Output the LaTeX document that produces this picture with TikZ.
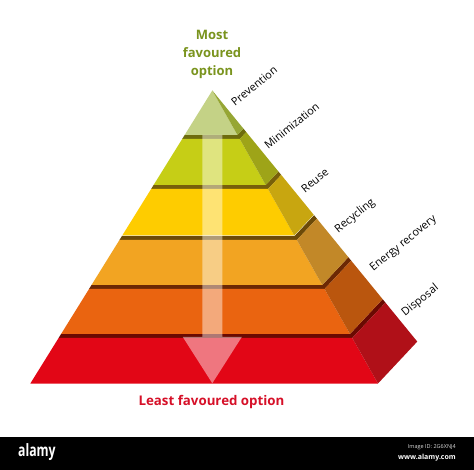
\documentclass[tikz,border=0pt]{standalone}
\usepackage{fontspec}
\setmainfont{Open Sans}
\definecolor{prevF}{RGB}{196,210,134}
\definecolor{prevS}{RGB}{150,166,52}
\definecolor{minF}{RGB}{198,206,22}
\definecolor{minS}{RGB}{158,164,24}
\definecolor{minT}{RGB}{110,108,14}
\definecolor{reuF}{RGB}{254,204,0}
\definecolor{reuS}{RGB}{200,166,16}
\definecolor{reuT}{RGB}{120,96,10}
\definecolor{recF}{RGB}{242,164,34}
\definecolor{recS}{RGB}{194,136,40}
\definecolor{recT}{RGB}{108,74,8}
\definecolor{eneF}{RGB}{234,100,16}
\definecolor{eneS}{RGB}{186,86,14}
\definecolor{eneT}{RGB}{108,40,4}
\definecolor{disF}{RGB}{226,6,22}
\definecolor{disS}{RGB}{176,16,24}
\definecolor{disT}{RGB}{106,10,2}
\definecolor{topTxt}{RGB}{122,148,30}
\definecolor{botTxt}{RGB}{214,16,40}
\def\pax{212.3}\def\pay{90.5}
\def\pkl{-0.621}\def\pkr{0.5655}
\def\pdx{0.134}\def\pdy{-0.143}
\def\pgap{4}
% #1 name, #2 ytop, #3 ybottom
\newcommand{\slabpts}[3]{%
  \pgfmathsetmacro\myDt{#2-\pay}%
  \pgfmathsetmacro\myDb{#3-\pay}%
  \pgfmathsetmacro\myDs{#2-\pgap-\pay}%
  \coordinate (#1-flt) at ({\pax+\pkl*\myDt},#2);
  \coordinate (#1-frt) at ({\pax+\pkr*\myDt},#2);
  \coordinate (#1-brt) at ({\pax+\pkr*\myDt+\pdx*\myDt},{#2+\pdy*\myDt});
  \coordinate (#1-flb) at ({\pax+\pkl*\myDb},#3);
  \coordinate (#1-frb) at ({\pax+\pkr*\myDb},#3);
  \coordinate (#1-brb) at ({\pax+\pkr*\myDb+\pdx*\myDb},{#3+\pdy*\myDb});
  \coordinate (#1-fls) at ({\pax+\pkl*\myDs},{#2-\pgap});
  \coordinate (#1-frs) at ({\pax+\pkr*\myDs},{#2-\pgap});
  \coordinate (#1-brs) at ({\pax+\pkr*\myDs+\pdx*\myDs},{#2-\pgap+\pdy*\myDs});
}
% #1 name, #2 front, #3 side
\newcommand{\slabfaces}[3]{%
  \fill[#2] (#1-flt) -- (#1-frt) -- (#1-frb) -- (#1-flb) -- cycle;
  \fill[#3] (#1-frt) -- (#1-brt) -- (#1-brb) -- (#1-frb) -- cycle;
}
\newcommand{\slabstrip}[2]{%
  \fill[#2] (#1-flt) -- (#1-frt) -- (#1-brt) -- (#1-brs) -- (#1-frs) -- (#1-fls) -- cycle;
}
\tikzset{
  lab/.style={font=\fontsize{11}{13}\selectfont, text=black, inner sep=0pt, anchor=base west, rotate=39},
}
\begin{document}
\begin{tikzpicture}[x=1pt,y=-1pt]
\useasboundingbox (0,0) rectangle (474,470);
\fill[white] (0,0) rectangle (474,470);
% slabs
\slabpts{dis}{338}{383.5}
\slabpts{ene}{289}{334}
\slabpts{rec}{240}{285}
\slabpts{reu}{189}{235.5}
\slabpts{min}{139}{185}
\slabpts{pre}{90.5}{135}
\slabstrip{dis}{disT}\slabfaces{dis}{disF}{disS}
\slabstrip{ene}{eneT}\slabfaces{ene}{eneF}{eneS}
\slabstrip{rec}{recT}\slabfaces{rec}{recF}{recS}
\slabstrip{reu}{reuT}\slabfaces{reu}{reuF}{reuS}
\slabstrip{min}{minT}\slabfaces{min}{minF}{minS}
\slabfaces{pre}{prevF}{prevS}
% arrow
\coordinate (arT) at (212.3,135);
\coordinate (arH) at (212.3,337);
\coordinate (arTip) at (212.3,383.3);
\fill[white, opacity=0.45]
  ([xshift=-10pt]arT) -- ([xshift=10pt]arT) -- ([xshift=10pt]arH) -- ([xshift=29.5pt]arH)
  -- (arTip) -- ([xshift=-29.5pt]arH) -- ([xshift=-10pt]arH) -- cycle;
% titles
\node[font=\bfseries\fontsize{13}{18}\selectfont, text=topTxt, align=center, inner sep=0pt] (most) at (212,54.5) {Most\\favoured\\option};
\node[font=\bfseries\fontsize{13.3}{15}\selectfont, text=botTxt, inner sep=0pt, anchor=base] (least) at (211.5,405.5) {Least favoured option};
% labels
\node[lab] (lprev) at (235,106.7) {Prevention};
\node[lab] (lmin) at (268.3,150) {Minimization};
\node[lab] (lreu) at (305,193.3) {Reuse};
\node[lab] (lrec) at (338.3,233.3) {Recycling};
\node[lab] (lene) at (373.3,271.7) {Energy recovery};
\node[lab] (ldis) at (405,316.7) {Disposal};
% bottom bar
\fill[black] (0,437) rectangle (474,470);
\node[font=\bfseries\fontsize{17}{18}\selectfont, text=white, inner sep=0pt, anchor=west] (alamy) at (18,452) {\scalebox{0.72}[1]{alamy}};
\node[font=\fontsize{5.5}{6}\selectfont, text=white!85!black, inner sep=0pt, anchor=east] (imgid) at (456,447.5) {Image ID: 2G6XNJ4};
\node[font=\bfseries\fontsize{7}{8}\selectfont, text=white, inner sep=0pt, anchor=east] (www) at (456,457.5) {www.alamy.com};
\end{tikzpicture}
\end{document}
